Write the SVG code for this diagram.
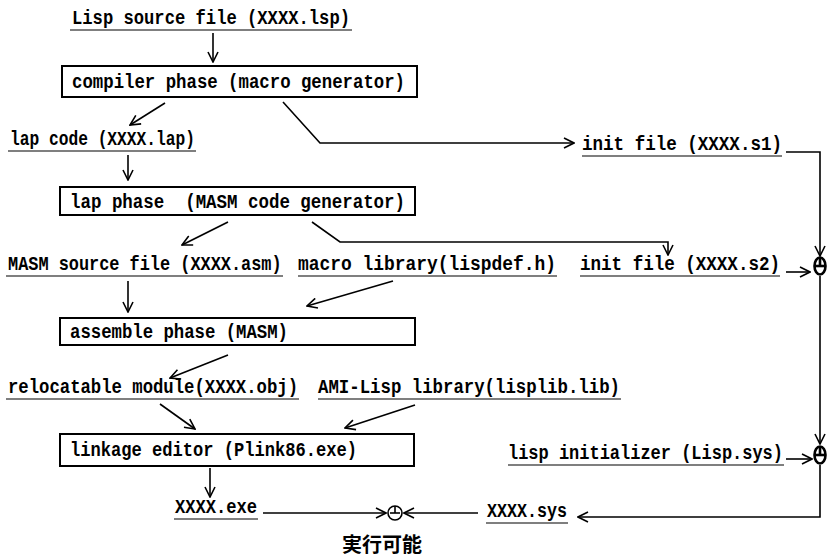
<svg xmlns="http://www.w3.org/2000/svg" width="833" height="559" viewBox="0 0 833 559">
<style>
.t{font-family:"Liberation Mono","DejaVu Sans Mono",monospace;font-size:20px;font-weight:bold;fill:#000;white-space:pre}
.j{font-family:"Noto Sans CJK JP","Noto Sans CJK SC",sans-serif;font-size:20px;font-weight:bold;fill:#000}
.u{stroke:#000;stroke-width:1.2;fill:none}
.box{fill:#fff;stroke:#000;stroke-width:2}
.c{fill:none;stroke:#000;stroke-width:1.6}
.j1{fill:none;stroke:#000;stroke-width:2.6}
</style>
<defs>
<marker id="a" viewBox="0 0 12 12" refX="11" refY="6" markerWidth="12" markerHeight="12" markerUnits="userSpaceOnUse" orient="auto">
<path d="M1,1 L11,6 L1,11" fill="none" stroke="#000" stroke-width="1.6"/>
</marker>
</defs>
<g id="connectors">
<line class="c" x1="213" y1="33" x2="213" y2="62" marker-end="url(#a)"/>
<line class="c" x1="165" y1="103" x2="130" y2="125" marker-end="url(#a)"/>
<polyline class="c" points="283,102 320,143 574,143" marker-end="url(#a)"/>
<polyline class="c" points="786,152 820,152 820,256" marker-end="url(#a)"/>
<line class="c" x1="128" y1="155" x2="128" y2="180" marker-end="url(#a)"/>
<line class="c" x1="228" y1="222" x2="182" y2="245" marker-end="url(#a)"/>
<polyline class="c" points="312,222 340,242 668,242 668,255" marker-end="url(#a)"/>
<line class="c" x1="786" y1="272" x2="810" y2="272" marker-end="url(#a)"/>
<line class="c" x1="128" y1="281" x2="128" y2="312" marker-end="url(#a)"/>
<line class="c" x1="393" y1="281" x2="307" y2="306" marker-end="url(#a)"/>
<line class="c" x1="820" y1="276" x2="820" y2="444" marker-end="url(#a)"/>
<line class="c" x1="228" y1="355" x2="170" y2="378" marker-end="url(#a)"/>
<line class="c" x1="160" y1="404" x2="195" y2="429" marker-end="url(#a)"/>
<line class="c" x1="415" y1="405" x2="345" y2="428" marker-end="url(#a)"/>
<line class="c" x1="786" y1="459" x2="812" y2="459" marker-end="url(#a)"/>
<polyline class="c" points="820,465 820,517 578,517" marker-end="url(#a)"/>
<line class="c" x1="210" y1="468" x2="210" y2="497" marker-end="url(#a)"/>
<line class="c" x1="263" y1="513" x2="386" y2="513" marker-end="url(#a)"/>
<line class="c" x1="478" y1="513" x2="404" y2="513" marker-end="url(#a)"/>
</g>
<g id="lisp-source">
<text class="t" x="72" y="24" textLength="278" lengthAdjust="spacingAndGlyphs">Lisp source file (XXXX.lsp)</text>
<line class="u" x1="70" y1="30" x2="352" y2="30"/>
</g>
<g id="compiler-phase">
<rect class="box" x="62" y="66" width="355" height="31"/>
<text class="t" x="72" y="88" textLength="333" lengthAdjust="spacingAndGlyphs">compiler phase (macro generator)</text>
</g>
<g id="lap-code">
<text class="t" x="10" y="145" textLength="185" lengthAdjust="spacingAndGlyphs">lap code (XXXX.lap)</text>
<line class="u" x1="8" y1="151" x2="196" y2="151"/>
</g>
<g id="init-s1">
<text class="t" x="582" y="150" textLength="200" lengthAdjust="spacingAndGlyphs">init file (XXXX.s1)</text>
<line class="u" x1="582" y1="156" x2="782" y2="156"/>
</g>
<g id="lap-phase">
<rect class="box" x="60" y="187" width="355" height="28"/>
<text class="t" x="70" y="208" textLength="335" lengthAdjust="spacingAndGlyphs">lap phase  (MASM code generator)</text>
</g>
<g id="masm-source">
<text class="t" transform="translate(8,270) scale(0.845,1)" x="0" y="0">MASM source file (XXXX.asm)</text>
<line class="u" x1="6" y1="276" x2="283" y2="276"/>
</g>
<g id="macro-library">
<text class="t" x="298" y="270" textLength="258" lengthAdjust="spacingAndGlyphs">macro library(lispdef.h)</text>
<line class="u" x1="298" y1="276" x2="557" y2="276"/>
</g>
<g id="init-s2">
<text class="t" x="580" y="270" textLength="200" lengthAdjust="spacingAndGlyphs">init file (XXXX.s2)</text>
<line class="u" x1="580" y1="276" x2="780" y2="276"/>
</g>
<g id="join1">
<ellipse class="j1" cx="820" cy="266" rx="5.5" ry="8.5"/>
<line class="j1" x1="814" y1="266" x2="826" y2="266"/>
<line class="j1" x1="820" y1="257" x2="820" y2="266"/>
</g>
<g id="assemble-phase">
<rect class="box" x="60" y="318" width="355" height="27"/>
<text class="t" x="70" y="338" textLength="218" lengthAdjust="spacingAndGlyphs">assemble phase (MASM)</text>
</g>
<g id="relocatable-module">
<text class="t" x="8" y="393" textLength="290" lengthAdjust="spacingAndGlyphs">relocatable module(XXXX.obj)</text>
<line class="u" x1="6" y1="399" x2="299" y2="399"/>
</g>
<g id="ami-lisp-library">
<text class="t" x="318" y="393" textLength="302" lengthAdjust="spacingAndGlyphs">AMI-Lisp library(lisplib.lib)</text>
<line class="u" x1="318" y1="399" x2="621" y2="399"/>
</g>
<g id="lisp-initializer">
<text class="t" x="508" y="459" textLength="275" lengthAdjust="spacingAndGlyphs">lisp initializer (Lisp.sys)</text>
<line class="u" x1="508" y1="465" x2="784" y2="465"/>
</g>
<g id="join2">
<ellipse class="j1" cx="820" cy="455" rx="5.5" ry="8.5"/>
<line class="j1" x1="814" y1="455" x2="826" y2="455"/>
<line class="j1" x1="820" y1="446" x2="820" y2="455"/>
</g>
<g id="linkage-editor">
<rect class="box" x="60" y="434" width="354" height="32"/>
<text class="t" x="70" y="456" textLength="287" lengthAdjust="spacingAndGlyphs">linkage editor (Plink86.exe)</text>
</g>
<g id="xxxx-exe">
<text class="t" x="175" y="513" textLength="82" lengthAdjust="spacingAndGlyphs">XXXX.exe</text>
<line class="u" x1="174" y1="519" x2="258" y2="519"/>
</g>
<g id="xxxx-sys">
<text class="t" x="487" y="517" textLength="80" lengthAdjust="spacingAndGlyphs">XXXX.sys</text>
<line class="u" x1="486" y1="523" x2="568" y2="523"/>
</g>
<g id="executable">
<circle cx="395" cy="513" r="7" fill="none" stroke="#000" stroke-width="1.6"/>
<line class="c" x1="390" y1="513" x2="400" y2="513"/>
<line class="c" x1="395" y1="506" x2="395" y2="513"/>
<text class="j" x="342" y="552">実行可能</text>
</g>
</svg>
